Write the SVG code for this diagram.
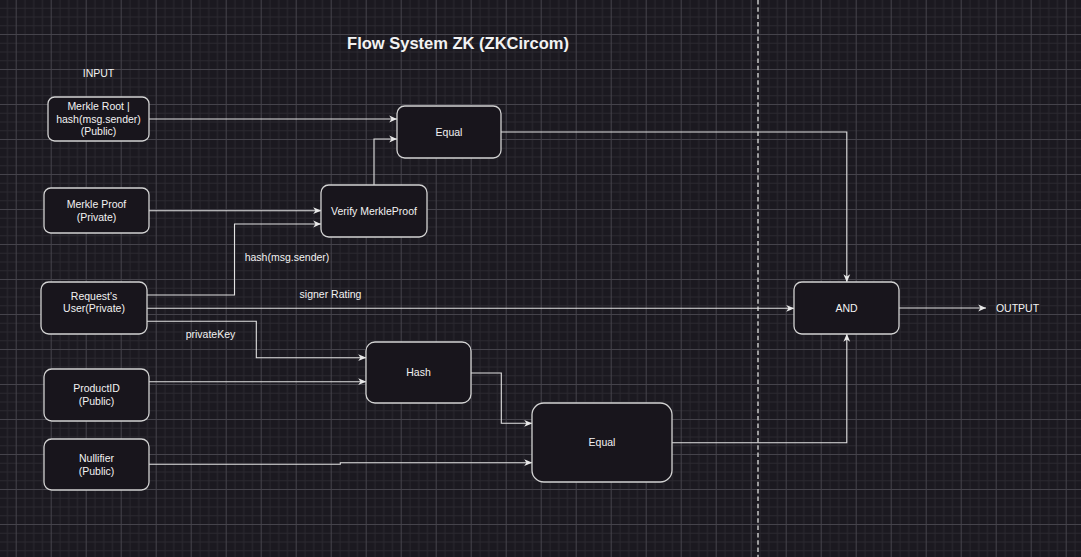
<svg xmlns="http://www.w3.org/2000/svg" width="1081" height="557" viewBox="0 0 1081 557">
  <defs>
    <pattern id="grid" patternUnits="userSpaceOnUse" x="15.7" y="-1" width="35" height="35">
      <rect x="0" y="0" width="35" height="35" fill="#1b1920"/>
      <g fill="#2a2830">
        <rect x="8.75" y="0" width="1" height="35"/>
        <rect x="17.5" y="0" width="1" height="35"/>
        <rect x="26.25" y="0" width="1" height="35"/>
        <rect x="0" y="8.75" width="35" height="1"/>
        <rect x="0" y="17.5" width="35" height="1"/>
        <rect x="0" y="26.25" width="35" height="1"/>
      </g>
      <g fill="#45434b">
        <rect x="0" y="0" width="1" height="35"/>
        <rect x="0" y="0" width="35" height="1"/>
      </g>
    </pattern>
    <marker id="arr" viewBox="0 0 8 8" refX="7.8" refY="4" markerWidth="8" markerHeight="8" orient="auto" markerUnits="userSpaceOnUse">
      <path d="M0,0.6 L8,4 L0,7.4 L2.2,4 Z" fill="#e8e8e8"/>
    </marker>
    <style>
      .node rect { fill: #18151c; stroke: #d2d2d2; stroke-width: 1.3; }
      .t { font-family: "Liberation Sans", Arial, sans-serif; font-size: 10.5px; fill: #f2f2f2; text-anchor: middle; }
      .title { font-family: "Liberation Sans", Arial, sans-serif; font-size: 16.5px; font-weight: bold; fill: #f2f2f2; text-anchor: middle; }
      .edge { fill: none; stroke: #e2e2e2; stroke-width: 1.1; marker-end: url(#arr); }
    </style>
  </defs>

  <rect x="0" y="0" width="1081" height="557" fill="url(#grid)"/>

  <line x1="758" y1="0" x2="758" y2="557" stroke="#bdbdbd" stroke-width="1.6" stroke-dasharray="4.5 2.8"/>

  <text class="title" x="458" y="49">Flow System ZK (ZKCircom)</text>
  <text class="t" x="98.5" y="77">INPUT</text>

  <g id="connectors">
    <path class="edge" d="M149,119 L397,119"/>
    <path class="edge" d="M149,210.7 L321,210.7"/>
    <path class="edge" d="M147,295 L234.5,295 L234.5,224 L321,224"/>
    <path class="edge" d="M374,185 L374,139 L397,139"/>
    <path class="edge" d="M501,132 L846.8,132 L846.8,282"/>
    <path class="edge" d="M147,308.3 L794,308.3"/>
    <path class="edge" d="M147,321.3 L256.3,321.3 L256.3,357.7 L366,357.7"/>
    <path class="edge" d="M149,381.7 L366,381.7"/>
    <path class="edge" d="M471,373 L501.3,373 L501.3,423.3 L532,423.3"/>
    <path class="edge" d="M149,464.3 L340.3,464.3 L340.3,462.7 L532,462.7"/>
    <path class="edge" d="M672,442.7 L846.8,442.7 L846.8,334"/>
    <path class="edge" d="M899,308 L986,308"/>
    <text class="t" x="287" y="261">hash(msg.sender)</text>
    <text class="t" x="330.5" y="298">signer Rating</text>
    <text class="t" x="210.5" y="338">privateKey</text>
  </g>

  <g id="merkle-root" class="node">
    <rect x="48" y="97" width="101" height="44" rx="6.6"/>
    <text class="t" x="98.5" y="110.2">Merkle Root |</text>
    <text class="t" x="98.5" y="122.8">hash(msg.sender)</text>
    <text class="t" x="98.5" y="135.4">(Public)</text>
  </g>

  <g id="merkle-proof" class="node">
    <rect x="44" y="188" width="105" height="45" rx="6.7"/>
    <text class="t" x="96.5" y="208">Merkle Proof</text>
    <text class="t" x="96.5" y="220.6">(Private)</text>
  </g>

  <g id="request-user" class="node">
    <rect x="41" y="282" width="106" height="52" rx="7.8"/>
    <text class="t" x="94" y="299.6">Request's</text>
    <text class="t" x="94" y="312.4">User(Private)</text>
  </g>

  <g id="product-id" class="node">
    <rect x="44" y="369" width="105" height="52" rx="7.8"/>
    <text class="t" x="96.5" y="392">ProductID</text>
    <text class="t" x="96.5" y="404.6">(Public)</text>
  </g>

  <g id="nullifier" class="node">
    <rect x="44" y="439" width="105" height="51" rx="7.7"/>
    <text class="t" x="96.5" y="462">Nullifier</text>
    <text class="t" x="96.5" y="474.6">(Public)</text>
  </g>

  <g id="verify-merkle" class="node">
    <rect x="321" y="185" width="106" height="52" rx="7.8"/>
    <text class="t" x="374" y="214.8">Verify MerkleProof</text>
  </g>

  <g id="equal-top" class="node">
    <rect x="397" y="106" width="104" height="52" rx="7.8"/>
    <text class="t" x="449" y="135.8">Equal</text>
  </g>

  <g id="hash" class="node">
    <rect x="366" y="342" width="105" height="61" rx="9"/>
    <text class="t" x="418.5" y="376.3">Hash</text>
  </g>

  <g id="equal-bottom" class="node">
    <rect x="532" y="403" width="140" height="79" rx="11.8"/>
    <text class="t" x="602" y="446.3">Equal</text>
  </g>

  <g id="and" class="node">
    <rect x="794" y="282" width="105" height="52" rx="7.8"/>
    <text class="t" x="846.5" y="311.8">AND</text>
  </g>

  <g id="output">
    <text class="t" x="1017.5" y="311.8">OUTPUT</text>
  </g>
</svg>
